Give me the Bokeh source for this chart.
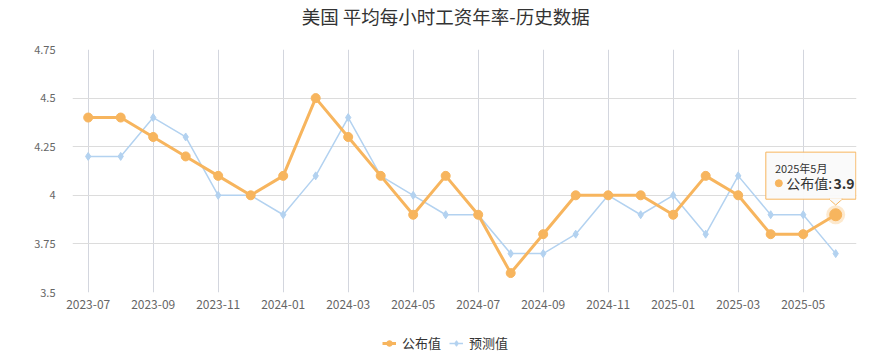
from bokeh.plotting import figure
from bokeh.layouts import column
from bokeh.models import (FixedTicker, Legend, LegendItem, Label, Range1d,
                          NumeralTickFormatter)
from bokeh.embed import file_html
from bokeh.resources import INLINE

months = ["2023-07", "2023-08", "2023-09", "2023-10", "2023-11", "2023-12",
          "2024-01", "2024-02", "2024-03", "2024-04", "2024-05", "2024-06",
          "2024-07", "2024-08", "2024-09", "2024-10", "2024-11", "2024-12",
          "2025-01", "2025-02", "2025-03", "2025-04", "2025-05", "2025-06"]
actual = [4.4, 4.4, 4.3, 4.2, 4.1, 4.0, 4.1, 4.5, 4.3, 4.1, 3.9, 4.1,
          3.9, 3.6, 3.8, 4.0, 4.0, 4.0, 3.9, 4.1, 4.0, 3.8, 3.8, 3.9]
forecast = [4.2, 4.2, 4.4, 4.3, 4.0, 4.0, 3.9, 4.1, 4.4, 4.1, 4.0, 3.9,
            3.9, 3.7, 3.7, 3.8, 4.0, 3.9, 4.0, 3.8, 4.1, 3.9, 3.9, 3.7]
y_ticks = [3.5, 3.75, 4.0, 4.25, 4.5, 4.75]
title_text = "美国 平均每小时工资年率-历史数据"
tooltip_title = "2025年5月"
series_names = ["公布值", "预测值"]

ORANGE = "#f7b55e"
BLUE = "#b3d2f0"
FONT = "Noto Sans CJK SC"

x = list(range(len(months)))
x_ticks = x[::2]


def strip(height):
    f = figure(width=894, height=height, output_backend="svg",
               toolbar_location=None, x_range=Range1d(0, 1),
               y_range=Range1d(0, 1), min_border_left=72,
               min_border_right=38, min_border_top=0, min_border_bottom=0,
               x_axis_type=None, y_axis_type=None)
    f.outline_line_color = None
    f.xgrid.visible = False
    f.ygrid.visible = False
    return f


# title strip
t = strip(36)
t.add_layout(Label(x=0.476, y=0.56, text=title_text, text_font=FONT,
                   text_font_size="18.5px", text_color="#333333",
                   text_align="center", text_baseline="middle"))

p = figure(width=894, height=284, output_backend="svg", toolbar_location=None,
           x_range=Range1d(-0.483, 23.64), y_range=Range1d(3.5, 4.75),
           min_border_left=72, min_border_right=38, min_border_top=13,
           min_border_bottom=28)
p.outline_line_color = None

for ax in (p.xaxis[0], p.yaxis[0]):
    ax.axis_line_color = None
    ax.major_tick_line_color = None
    ax.minor_tick_line_color = None
    ax.major_tick_in = 0
    ax.major_tick_out = 0
    ax.major_label_text_color = "#666666"
    ax.major_label_text_font = FONT

p.xaxis.ticker = FixedTicker(ticks=x_ticks)
p.xaxis.major_label_overrides = {i: months[i] for i in x_ticks}
p.xaxis.major_label_standoff = 7
p.xaxis.major_label_text_font_size = "12px"
p.yaxis.ticker = FixedTicker(ticks=y_ticks)
p.yaxis.formatter = NumeralTickFormatter(format="0.[00]")
p.yaxis.major_label_standoff = 17
p.yaxis.major_label_text_font_size = "11px"

p.xgrid.ticker = FixedTicker(ticks=x_ticks)
p.xgrid.grid_line_color = "#d3d6de"
p.ygrid.ticker = FixedTicker(ticks=y_ticks)
p.ygrid.grid_line_color = "#dcdcdc"

# series
p.line(x, forecast, line_color=BLUE, line_width=1.5)
p.scatter(x, forecast, marker="diamond", size=8, fill_color=BLUE,
          line_color=BLUE)
p.line(x, actual, line_color=ORANGE, line_width=3)
p.scatter(x[:-1], actual[:-1], marker="circle", size=9,
          fill_color=ORANGE, line_color=ORANGE)

# highlighted last point
xl, yl = x[-1], actual[-1]
p.scatter([xl], [yl], marker="circle", size=19, fill_color=ORANGE,
          fill_alpha=0.3, line_color=None)
p.scatter([xl], [yl], marker="circle", size=12, fill_color=ORANGE,
          line_color=ORANGE)

# tooltip box
bl, br = xl - 2.15, xl + 0.62
bb, bt = yl + 0.08, yl + 0.322
p.quad(left=[bl], right=[br], bottom=[bb], top=[bt], fill_color="#fafafa",
       fill_alpha=0.95, line_color=ORANGE, line_width=1)
p.patch([xl - 0.2, xl + 0.2, xl], [bb, bb, yl + 0.05], fill_color="#fafafa",
        line_color=ORANGE, line_width=1)
p.segment(x0=[xl - 0.18], x1=[xl + 0.18], y0=[bb], y1=[bb],
          line_color="#fafafa", line_width=2)
p.add_layout(Label(x=bl + 0.28, y=yl + 0.239, text=tooltip_title,
                   text_font=FONT, text_font_size="11px",
                   text_color="#333333", text_baseline="middle"))
p.scatter([bl + 0.4], [yl + 0.162], marker="circle", size=7,
          fill_color=ORANGE, line_color=ORANGE)
p.add_layout(Label(x=bl + 0.63, y=yl + 0.162, text=series_names[0] + ":",
                   text_font=FONT, text_font_size="14px",
                   text_color="#333333", text_baseline="middle"))
p.add_layout(Label(x=bl + 2.08, y=yl + 0.162, text=str(yl),
                   text_font=FONT, text_font_size="14px",
                   text_font_style="bold", text_color="#333333",
                   text_baseline="middle"))

# legend strip (series drawn out of view; only legend icons show)
q = strip(38)
q.x_range = Range1d(-0.483, 23.64)
q.y_range = Range1d(100, 101)
la = q.line(x, actual, line_color=ORANGE, line_width=3)
sa = q.scatter(x, actual, marker="circle", size=9, fill_color=ORANGE,
               line_color=ORANGE)
lf = q.line(x, forecast, line_color=BLUE, line_width=1.5)
sf = q.scatter(x, forecast, marker="diamond", size=8, fill_color=BLUE,
               line_color=BLUE)
legend = Legend(items=[LegendItem(label=series_names[0], renderers=[la, sa]),
                       LegendItem(label=series_names[1], renderers=[lf, sf])],
                orientation="horizontal", location=(310, 6),
                border_line_color=None, background_fill_alpha=0,
                label_text_font=FONT, label_text_font_size="13px",
                label_text_color="#333333", glyph_width=14, glyph_height=14,
                spacing=8, label_standoff=6, padding=4, margin=0)
q.add_layout(legend)

layout = column(t, p, q, spacing=0)
open("out.html", "w").write(file_html(layout, INLINE))
